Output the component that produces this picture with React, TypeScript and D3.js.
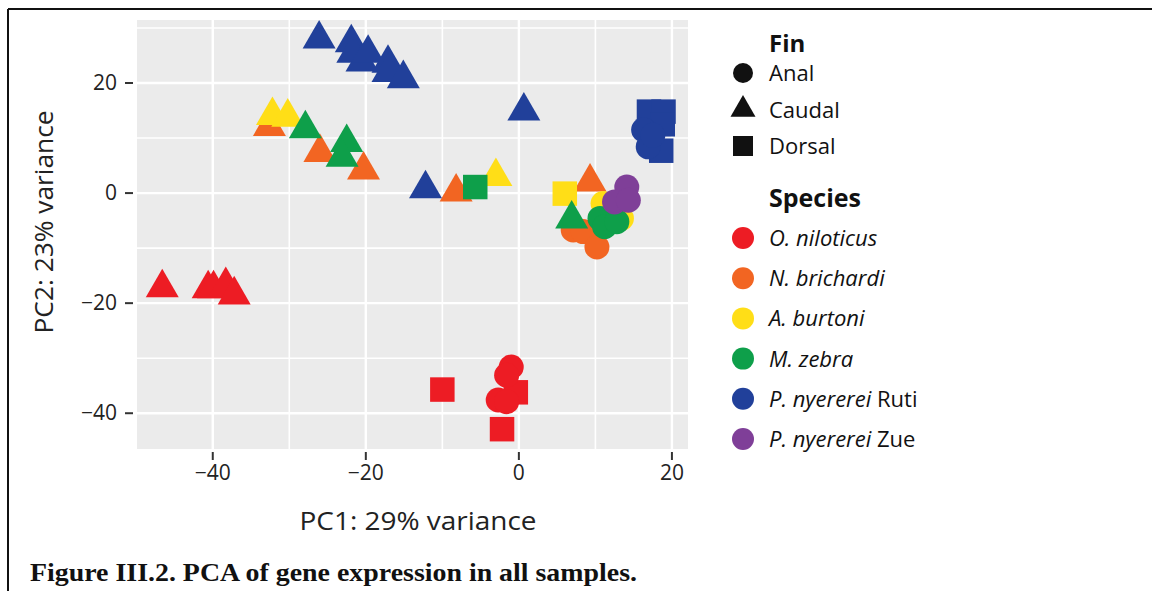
import React from "react";
import * as d3 from "d3";

// Species and fin categories with their colours / shapes
const speciesNames = [
  "O. niloticus",
  "N. brichardi",
  "A. burtoni",
  "M. zebra",
  "P. nyererei Ruti",
  "P. nyererei Zue",
];
const speciesColors = ["#ED1C24", "#F26522", "#FFDE17", "#0E9F4A", "#21409A", "#7F3F98"];
const finNames = ["Anal", "Caudal", "Dorsal"];

const xTicks = [-40, -20, 0, 20];
const yTicks = [-40, -20, 0, 20];
const xMinor = [-30, -10, 10];
const yMinor = [-30, -10, 10, 30];

// PCA scores per sample (species index, fin index, PC1, PC2)
const sampleSpecies = [
  0, 0, 0, 0, 0, 0, 0, 0, 0, 0, 0, 0,
  1, 1, 1, 1, 1, 1, 1, 1,
  2, 2, 2, 2, 2, 2,
  3, 3, 3, 3, 3, 3, 3, 3,
  4, 4, 4, 4, 4, 4, 4, 4, 4, 4, 4, 4, 4, 4, 4, 4, 4,
  5, 5, 5,
];
const sampleFin = [
  1, 1, 1, 1, 1, 2, 2, 2, 0, 0, 0, 0,
  1, 1, 1, 1, 1, 0, 0, 0,
  1, 1, 1, 2, 0, 0,
  1, 1, 1, 1, 2, 0, 0, 0,
  1, 1, 1, 1, 1, 1, 1, 1, 1, 1, 2, 2, 2, 2, 0, 0, 0,
  0, 0, 0,
];
const pc1 = [
  -46.6, -40.6, -39.9, -38.3, -37.2, -10.0, -0.4, -2.2, -1.0, -1.6, -2.7, -1.6,
  -32.6, -26.0, -20.3, -8.2, 9.3, 7.1, 8.4, 10.2,
  -32.2, -30.2, -3.0, 6.0, 11.0, 13.4,
  -27.9, -22.5, -23.1, 6.9, -5.7, 10.6, 11.2, 12.8,
  -26.1, -21.9, -21.7, -20.5, -19.7, -17.1, -17.1, -15.1, -12.2, 0.65, 17.0, 18.9, 18.8, 18.6, 16.3, 16.9, 17.5,
  14.1, 12.5, 14.3,
];
const pc2 = [
  -17.2, -17.4, -17.4, -16.8, -18.5, -35.7, -36.2, -42.9, -31.6, -33.1, -37.6, -37.9,
  12.1, 7.4, 4.2, 0.2, 2.0, -6.7, -7.0, -9.8,
  14.1, 13.8, 3.0, -0.1, -1.9, -4.6,
  11.7, 9.2, 6.5, -4.7, 1.1, -4.6, -6.1, -5.2,
  28.0, 27.3, 25.4, 23.8, 25.4, 23.6, 21.9, 20.8, 0.8, 14.9, 14.8, 14.8, 12.5, 7.7, 11.5, 8.4, 10.5,
  1.1, -1.6, -1.3,
];

const W = 1152;
const H = 591;
const panel = { left: 137, right: 688, top: 20, bottom: 449 };

const x = d3.scaleLinear().domain([-49.9, 22.1]).range([panel.left, panel.right]);
const y = d3.scaleLinear().domain([-46.5, 31.45]).range([panel.bottom, panel.top]);

const finSymbols = [d3.symbolCircle, d3.symbolTriangle, d3.symbolSquare];
const pointSizes = [491, 471, 600];
const legendSizes = [314, 270, 400];

const sansFont = "'Open Sans', 'Noto Sans', sans-serif";
const minus = (v: number) => (v < 0 ? "\u2212" + Math.abs(v) : String(v));

export default function App() {
  const samples = pc1.map((v, i) => ({
    x: v,
    y: pc2[i],
    s: sampleSpecies[i],
    f: sampleFin[i],
  }));
  // draw in species order so later groups sit on top
  const ordered = samples.slice().sort((a, b) => a.s - b.s);

  return (
    <svg
      width={W}
      height={H}
      style={{ position: "absolute", left: 0, top: 0, background: "#fff" }}
    >
      {/* frame */}
      <line x1={8} x2={W} y1={9} y2={9} stroke="#111" strokeWidth={2} />
      <line x1={8} x2={8} y1={9} y2={H} stroke="#111" strokeWidth={2} />

      {/* panel */}
      <rect
        x={panel.left}
        y={panel.top}
        width={panel.right - panel.left}
        height={panel.bottom - panel.top}
        fill="#EBEBEB"
      />
      {xMinor.map((t) => (
        <line key={"xm" + t} x1={x(t)} x2={x(t)} y1={panel.top} y2={panel.bottom} stroke="#fff" strokeWidth={1.6} />
      ))}
      {yMinor.map((t) => (
        <line key={"ym" + t} x1={panel.left} x2={panel.right} y1={y(t)} y2={y(t)} stroke="#fff" strokeWidth={1.6} />
      ))}
      {xTicks.map((t) => (
        <line key={"xg" + t} x1={x(t)} x2={x(t)} y1={panel.top} y2={panel.bottom} stroke="#fff" strokeWidth={2.4} />
      ))}
      {yTicks.map((t) => (
        <line key={"yg" + t} x1={panel.left} x2={panel.right} y1={y(t)} y2={y(t)} stroke="#fff" strokeWidth={2.4} />
      ))}

      {/* points */}
      {ordered.map((p, i) => (
        <path
          key={"p" + i}
          transform={`translate(${x(p.x)},${y(p.y)})`}
          d={d3.symbol(finSymbols[p.f], pointSizes[p.f])() as string}
          fill={speciesColors[p.s]}
        />
      ))}

      {/* x axis */}
      {xTicks.map((t) => (
        <g key={"xt" + t}>
          <line x1={x(t)} x2={x(t)} y1={452} y2={460} stroke="#333" strokeWidth={2} />
          <text x={x(t)} y={480} textAnchor="middle" fontFamily={sansFont} fontSize={21} fill="#222">
            {minus(t)}
          </text>
        </g>
      ))}
      {/* y axis */}
      {yTicks.map((t) => (
        <g key={"yt" + t}>
          <line x1={125} x2={133} y1={y(t)} y2={y(t)} stroke="#333" strokeWidth={2} />
          <text x={117} y={y(t) + 7} textAnchor="end" fontFamily={sansFont} fontSize={21} fill="#222">
            {minus(t)}
          </text>
        </g>
      ))}

      <text
        x={418}
        y={530}
        textAnchor="middle"
        fontFamily={sansFont}
        fontSize={25}
        fill="#222"
        textLength={237}
        lengthAdjust="spacingAndGlyphs"
      >
        PC1: 29% variance
      </text>
      <text
        transform="translate(53,222) rotate(-90)"
        textAnchor="middle"
        fontFamily={sansFont}
        fontSize={25}
        fill="#222"
        textLength={223}
        lengthAdjust="spacingAndGlyphs"
      >
        PC2: 23% variance
      </text>

      {/* legend: fin */}
      <text x={769} y={52} fontFamily={sansFont} fontWeight="bold" fontSize={24} fill="#111">
        Fin
      </text>
      {finNames.map((f, i) => (
        <g key={"lf" + f} transform={`translate(0,${73 + i * 36.5})`}>
          <path transform="translate(743,0)" d={d3.symbol(finSymbols[i], legendSizes[i])() as string} fill="#111" />
          <text x={769} y={8} fontFamily={sansFont} fontSize={22} fill="#111">
            {f}
          </text>
        </g>
      ))}

      {/* legend: species */}
      <text x={769} y={207} fontFamily={sansFont} fontWeight="bold" fontSize={25} fill="#111">
        Species
      </text>
      {speciesNames.map((s, i) => {
        const parts = s.startsWith("P. nyererei") ? ["P. nyererei", s.slice(11)] : [s, ""];
        return (
          <g key={"ls" + s} transform={`translate(0,${238 + i * 40.2})`}>
            <circle cx={743} cy={0} r={11} fill={speciesColors[i]} />
            <text x={769} y={8} fontFamily={sansFont} fontSize={22} fill="#111">
              <tspan fontStyle="italic">{parts[0]}</tspan>
              {parts[1] && <tspan>{parts[1]}</tspan>}
            </text>
          </g>
        );
      })}

      {/* caption */}
      <text
        x={30}
        y={581}
        fontFamily="'Liberation Serif', 'DejaVu Serif', serif"
        fontWeight="bold"
        fontSize={26}
        fill="#111"
        textLength={607}
        lengthAdjust="spacingAndGlyphs"
      >
        Figure III.2. PCA of gene expression in all samples.
      </text>
    </svg>
  );
}
